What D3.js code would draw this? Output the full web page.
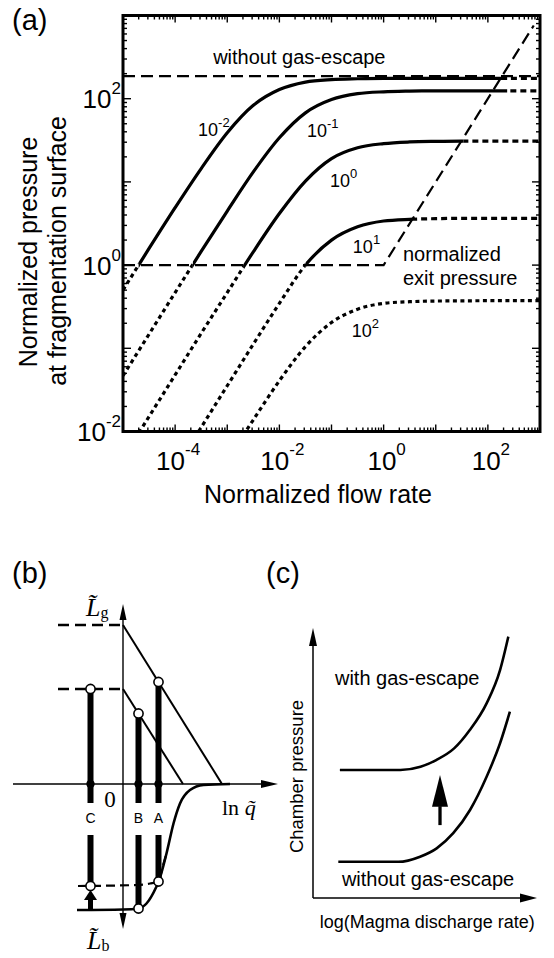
<!DOCTYPE html>
<html>
<head>
<meta charset="utf-8">
<script src="https://cdn.jsdelivr.net/npm/d3@7/dist/d3.min.js"></script>
<style>
  body { margin: 0; background: #fff; }
  svg text { font-family: "Liberation Sans", Arial, Helvetica, sans-serif; fill: #000; }
  svg text.serif { font-family: "Liberation Serif", "Times New Roman", serif; }
</style>
</head>
<body>
<svg id="fig" width="554" height="958"></svg>
<script>
// ---- (a) values, all as exponents of 10 ----
const flowExp = [-5, -4.5, -4, -3.5, -3, -2.5, -2, -1.5, -1, -0.5, 0, 0.5, 1, 1.5, 2, 2.5, 3]
const paramExp = ["-2", "-1", "0", "1", "2"]
const pressExp1 = [-0.30, 0.20, 0.69, 1.16, 1.59, 1.92, 2.11, 2.20, 2.23, 2.24, 2.245, 2.245, 2.245, 2.245, 2.245, 2.245, 2.245]
const pressExp2 = [-1.33, -0.83, -0.33, 0.165, 0.65, 1.12, 1.53, 1.83, 1.99, 2.06, 2.083, 2.091, 2.094, 2.095, 2.095, 2.095, 2.095]
const pressExp3 = [-2.32, -1.82, -1.32, -0.82, -0.33, 0.16, 0.62, 1.01, 1.28, 1.41, 1.46, 1.48, 1.487, 1.49, 1.49, 1.49, 1.49]
const pressExp4 = [-3.45, -2.95, -2.45, -1.95, -1.45, -0.95, -0.46, 0.0, 0.30, 0.46, 0.53, 0.55, 0.558, 0.562, 0.562, 0.562, 0.562]
const pressExp5 = [-4.34, -3.84, -3.34, -2.84, -2.34, -1.86, -1.39, -0.98, -0.69, -0.53, -0.46, -0.44, -0.432, -0.43, -0.428, -0.428, -0.428]
const pressExp = [pressExp1, pressExp2, pressExp3, pressExp4, pressExp5]
// solid part of each curve (flow exponent range), rest is dotted
const solidFrom = [-4.70, -3.66, -2.68, -1.50, null]
const solidTo = [2.37, 2.37, 1.53, 0.56, null]
const noEscapeExp = 2.272
const exitFlowExp = [-5, 0, 2.88]
const exitPressExp = [0, 0, 2.88]
const xLabelExp = [-4, -2, 0, 2]
const yLabelExp = [-2, 0, 2]

// ---- (b) values ----
const barNames = ["C", "B", "A"]
const barQ = [-0.65, 0.31, 0.71]
const barTop = [1.9, 1.41, 2.04]
const barBottom = [-2.04, -2.49, -1.95]
const lgLevel = [3.18, 1.9]
const lgZeroAt = [1.98, 1.2]
const lbNoEscQ = [-0.92, 0, 0.31, 0.47, 0.67, 0.71, 0.87, 1.01, 1.14, 1.34, 1.61, 2.14]
const lbNoEscL = [-2.52, -2.51, -2.49, -2.39, -2.05, -1.96, -1.39, -0.79, -0.39, -0.12, -0.02, 0]
const lbEscQ = [-0.9, 0.28, 0.54, 0.71, 0.79, 0.87]
const lbEscL = [-2.04, -2.02, -1.99, -1.95, -1.66, -1.39]

// ---- (c) values ----
const withEscX = [1.2, 3.9, 4.8, 5.5, 6.3, 7.0, 7.75, 8.35, 8.72]
const withEscY = [4.74, 4.74, 4.86, 5.11, 5.54, 6.22, 7.21, 8.44, 9.68]
const withoutEscX = [1.13, 3.81, 4.78, 5.52, 6.26, 7.01, 7.75, 8.35, 8.79]
const withoutEscY = [1.34, 1.34, 1.53, 1.84, 2.40, 3.26, 4.49, 5.73, 6.90]

const svg = d3.select("#fig")
const defs = svg.append("defs")

function powLabel(g, px, py, exp, size, supSize, raise, anchor) {
    let t = g.append("text").attr("x", px).attr("y", py)
        .attr("font-size", size).attr("text-anchor", anchor)
    t.append("tspan").text("10")
    t.append("tspan").attr("dy", -raise).attr("font-size", supSize).text(exp)
    return t
}
function tri(g, pts) {
    g.append("path").attr("d", "M" + pts.map(p => p.join(",")).join("L") + "Z").attr("fill", "#000")
}

// =================== panel (a) ===================
let x = d3.scaleLog().domain([1e-5, 1e3]).range([123, 540])
let y = d3.scaleLog().domain([1e-2, 1e3]).range([431.5, 15.5])
let gA = svg.append("g")
let pL = x.range()[0], pR = x.range()[1], pT = y.range()[1], pB = y.range()[0]

defs.append("clipPath").attr("id", "clipA").append("rect")
    .attr("x", pL).attr("y", pT).attr("width", pR - pL).attr("height", pB - pT)

let logLine = d3.line().x(d => x(10 ** d[0])).y(d => y(10 ** d[1]))
let smooth = d3.line().x(d => x(10 ** d[0])).y(d => y(10 ** d[1])).curve(d3.curveMonotoneX)
let plot = gA.append("g").attr("clip-path", "url(#clipA)")

// dashed reference lines
plot.append("path")
    .attr("d", logLine([[-5, noEscapeExp], [3, noEscapeExp]]))
    .attr("fill", "none").attr("stroke", "#000").attr("stroke-width", 2.2)
    .attr("stroke-dasharray", "12,6")
plot.append("path")
    .attr("d", logLine(exitFlowExp.map((q, i) => [q, exitPressExp[i]])))
    .attr("fill", "none").attr("stroke", "#000").attr("stroke-width", 2.2)
    .attr("stroke-dasharray", "12,6")

// curves: dotted outside the solid range
pressExp.forEach((arr, i) => {
    let pts = flowExp.map((q, j) => [q, arr[j]])
    let pieces = []
    if (solidFrom[i] == null) {
        pieces.push({ a: pL, b: pR, solid: false })
    } else {
        let xa = x(10 ** solidFrom[i]), xe = x(10 ** solidTo[i])
        pieces.push({ a: pL, b: xa, solid: false })
        pieces.push({ a: xa, b: xe, solid: true })
        pieces.push({ a: xe, b: pR, solid: false })
    }
    pieces.forEach((p, k) => {
        let id = `clipC${i}_${k}`
        defs.append("clipPath").attr("id", id).append("rect")
            .attr("x", p.a).attr("y", pT).attr("width", p.b - p.a).attr("height", pB - pT)
        plot.append("g").attr("clip-path", `url(#${id})`)
            .append("path")
            .attr("d", smooth(pts))
            .attr("fill", "none").attr("stroke", "#000").attr("stroke-width", 3.2)
            .attr("stroke-dasharray", p.solid ? null : (k == 0 ? "4,3.5" : "6,4"))
    })
})

// curve labels
const curveLabelAt = [[-3.56, 1.554], [-1.47, 1.542], [-1.03, 0.941], [-0.59, 0.148], [-0.61, -0.862]]
paramExp.forEach((e, i) => {
    powLabel(gA, x(10 ** curveLabelAt[i][0]), y(10 ** curveLabelAt[i][1]), e, 18, 13, 9, "start")
})

gA.append("text").attr("x", x(10 ** -3.27)).attr("y", y(10 ** 2.413))
    .attr("font-size", 20).text("without gas-escape")
gA.append("text").attr("x", x(10 ** 0.372)).attr("y", y(10 ** 0.052))
    .attr("font-size", 20).text("normalized")
gA.append("text").attr("x", x(10 ** 0.372)).attr("y", y(10 ** -0.236))
    .attr("font-size", 20).text("exit pressure")

// ticks on all four sides, pointing inwards
let isMajor = v => Math.abs(Math.log10(v) - Math.round(Math.log10(v))) < 1e-6
let ticksG = gA.append("g").attr("stroke", "#000").attr("stroke-width", 1.4)
x.ticks().filter(v => v > 1.001e-5 && v < 0.999e3).forEach(v => {
    let len = isMajor(v) ? 7 : 4
    ticksG.append("line").attr("x1", x(v)).attr("x2", x(v)).attr("y1", pB).attr("y2", pB - len)
    ticksG.append("line").attr("x1", x(v)).attr("x2", x(v)).attr("y1", pT).attr("y2", pT + len)
})
y.ticks().filter(v => v > 1.001e-2 && v < 0.999e3).forEach(v => {
    let len = isMajor(v) ? 8 : 4
    ticksG.append("line").attr("y1", y(v)).attr("y2", y(v)).attr("x1", pL).attr("x2", pL + len)
    ticksG.append("line").attr("y1", y(v)).attr("y2", y(v)).attr("x1", pR).attr("x2", pR - len)
})

gA.append("rect").attr("x", pL).attr("y", pT)
    .attr("width", pR - pL).attr("height", pB - pT)
    .attr("fill", "none").attr("stroke", "#000").attr("stroke-width", 3)

xLabelExp.forEach(e => powLabel(gA, x(10 ** e) + 3, 470, String(e), 26, 17, 15, "middle"))
yLabelExp.forEach(e => powLabel(gA, 121, y(10 ** e) + 9.5, String(e), 26, 17, 14, "end"))

gA.append("text").attr("x", 318).attr("y", 503).attr("font-size", 25)
    .attr("text-anchor", "middle").text("Normalized flow rate")
gA.append("text").attr("transform", "translate(37,252) rotate(-90)").attr("font-size", 25)
    .attr("text-anchor", "middle").text("Normalized pressure")
gA.append("text").attr("transform", "translate(66,251) rotate(-90)").attr("font-size", 25)
    .attr("text-anchor", "middle").text("at fragmentation surface")
gA.append("text").attr("x", 12).attr("y", 30).attr("font-size", 29).text("(a)")

// =================== panel (b) ===================
let xb = d3.scaleLinear().domain([-2.2, 3.1]).range([13, 278])
let yb = d3.scaleLinear().domain([-2.9, 3.6]).range([929, 604])
let gB = svg.append("g")
let lin = d3.line().x(d => xb(d[0])).y(d => yb(d[1]))
let smoothB = d3.line().x(d => xb(d[0])).y(d => yb(d[1])).curve(d3.curveMonotoneX)

// axes
gB.append("path").attr("d", lin([[-2.2, 0], [2.8, 0]])).attr("stroke", "#000").attr("stroke-width", 1.4)
gB.append("path").attr("d", lin([[0, -2.6], [0, 3.3]])).attr("stroke", "#000").attr("stroke-width", 1.4)
tri(gB, [[xb(3.1), yb(0)], [xb(3.1) - 17, yb(0) - 4], [xb(3.1) - 17, yb(0) + 4]])
tri(gB, [[xb(0), yb(3.6)], [xb(0) - 3.5, yb(3.6) + 16], [xb(0) + 3.5, yb(3.6) + 16]])
tri(gB, [[xb(0), yb(-2.9)], [xb(0) - 3.5, yb(-2.9) - 16], [xb(0) + 3.5, yb(-2.9) - 16]])

// Lg levels and lines
lgLevel.forEach((lv, i) => {
    gB.append("path").attr("d", lin([[-1.3, lv], [0, lv]]))
        .attr("stroke", "#000").attr("stroke-width", 2.5).attr("stroke-dasharray", "11,6")
    gB.append("path").attr("d", lin([[0, lv], [lgZeroAt[i], 0]]))
        .attr("stroke", "#000").attr("stroke-width", 2)
})

// Lb curves
gB.append("path").attr("d", smoothB(lbNoEscQ.map((q, i) => [q, lbNoEscL[i]])))
    .attr("fill", "none").attr("stroke", "#000").attr("stroke-width", 2.6)
gB.append("path").attr("d", smoothB(lbEscQ.map((q, i) => [q, lbEscL[i]])))
    .attr("fill", "none").attr("stroke", "#000").attr("stroke-width", 2.2)
    .attr("stroke-dasharray", "9,5")

// bars with a gap for the letter
barNames.forEach((n, i) => {
    [[barTop[i], -0.38], [-1.02, barBottom[i]]].forEach(s => {
        gB.append("path").attr("d", lin([[barQ[i], s[0]], [barQ[i], s[1]]]))
            .attr("stroke", "#000").attr("stroke-width", 6)
    })
    gB.append("circle").attr("cx", xb(barQ[i])).attr("cy", yb(0)).attr("r", 4.2).attr("fill", "#000")
    ;[barTop[i], barBottom[i]].forEach(v => {
        gB.append("circle").attr("cx", xb(barQ[i])).attr("cy", yb(v)).attr("r", 4.6)
            .attr("fill", "#fff").attr("stroke", "#000").attr("stroke-width", 1.6)
    })
    gB.append("text").attr("x", xb(barQ[i])).attr("y", yb(-0.78)).attr("font-size", 14)
        .attr("text-anchor", "middle").text(n)
})

// small arrow below C
let cx0 = xb(barQ[0])
gB.append("path").attr("d", lin([[barQ[0], lbNoEscL[0]], [barQ[0], -2.32]]))
    .attr("stroke", "#000").attr("stroke-width", 5)
tri(gB, [[cx0, yb(-2.12)], [cx0 - 6.5, yb(-2.32)], [cx0 + 6.5, yb(-2.32)]])

// labels (tilde as combining mark)
gB.append("text").attr("class", "serif").attr("x", xb(-0.26)).attr("y", yb(-0.46))
    .attr("font-size", 23).attr("text-anchor", "middle").text("0")
let lnT = gB.append("text").attr("class", "serif").attr("x", xb(1.98)).attr("y", yb(-0.62)).attr("font-size", 22)
lnT.append("tspan").text("ln ")
lnT.append("tspan").attr("font-style", "italic").text("q\u0303")

function lLabel(px, py, sub) {
    let t = gB.append("text").attr("class", "serif").attr("x", px).attr("y", py).attr("font-size", 26)
    t.append("tspan").attr("font-style", "italic").text("L\u0303")
    t.append("tspan").attr("font-size", 16).attr("dy", 2).text(sub)
}
lLabel(xb(-0.74), yb(3.36), "g")
lLabel(xb(-0.72), yb(-3.3), "b")
gB.append("text").attr("x", 12).attr("y", 583).attr("font-size", 29).text("(b)")

// =================== panel (c) ===================
let xc = d3.scaleLinear().domain([0, 10]).range([313, 537])
let yc = d3.scaleLinear().domain([0, 10]).range([898, 628])
let gC = svg.append("g")
let linC = d3.line().x(d => xc(d[0])).y(d => yc(d[1]))
let smoothC = d3.line().x(d => xc(d[0])).y(d => yc(d[1])).curve(d3.curveMonotoneX)

gC.append("path").attr("d", linC([[0, 0], [9.3, 0]])).attr("stroke", "#000").attr("stroke-width", 1.5)
gC.append("path").attr("d", linC([[0, 0], [0, 9.4]])).attr("stroke", "#000").attr("stroke-width", 1.5)
tri(gC, [[xc(10), yc(0)], [xc(10) - 17, yc(0) - 4.5], [xc(10) - 17, yc(0) + 4.5]])
tri(gC, [[xc(0), yc(10)], [xc(0) - 4, yc(10) + 18], [xc(0) + 4, yc(10) + 18]])

gC.append("path").attr("d", smoothC(withEscX.map((v, i) => [v, withEscY[i]])))
    .attr("fill", "none").attr("stroke", "#000").attr("stroke-width", 2.6)
gC.append("path").attr("d", smoothC(withoutEscX.map((v, i) => [v, withoutEscY[i]])))
    .attr("fill", "none").attr("stroke", "#000").attr("stroke-width", 2.6)

// arrow between the curves
gC.append("path").attr("d", linC([[5.67, 2.7], [5.67, 3.4]])).attr("stroke", "#000").attr("stroke-width", 3.3)
tri(gC, [[xc(5.67), yc(4.56)], [xc(5.67) - 8, yc(3.38)], [xc(5.67) + 8, yc(3.38)]])

gC.append("text").attr("x", xc(0.98)).attr("y", yc(7.89)).attr("font-size", 20).text("with gas-escape")
gC.append("text").attr("x", xc(1.29)).attr("y", yc(0.44)).attr("font-size", 20).text("without gas-escape")
gC.append("text").attr("transform", `translate(${xc(-0.45)},${yc(4.5)}) rotate(-90)`)
    .attr("font-size", 18.5).attr("text-anchor", "middle").text("Chamber pressure")
gC.append("text").attr("x", xc(5.1)).attr("y", yc(-1.11)).attr("font-size", 18)
    .attr("text-anchor", "middle").text("log(Magma discharge rate)")
gC.append("text").attr("x", 266).attr("y", 583).attr("font-size", 29).text("(c)")
</script>
</body>
</html>
